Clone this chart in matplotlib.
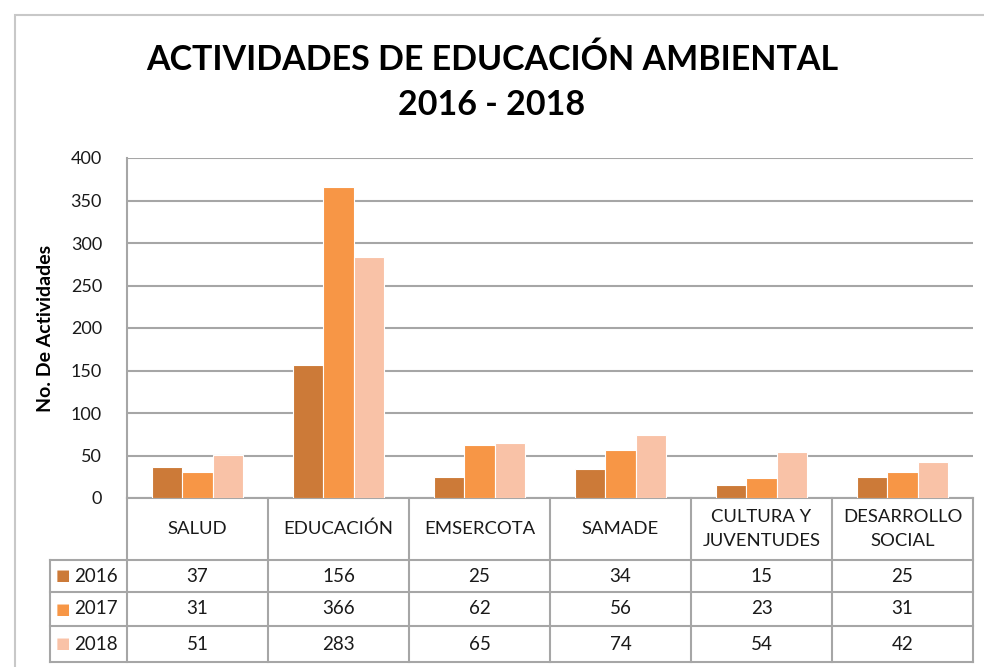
import matplotlib
matplotlib.use("Agg")
import matplotlib.pyplot as plt
import matplotlib.transforms as mtransforms
from matplotlib.patches import Rectangle
import numpy as np

categories = ["SALUD", "EDUCACIÓN", "EMSERCOTA", "SAMADE", "CULTURA Y\nJUVENTUDES", "DESARROLLO\nSOCIAL"]
years = ["2016", "2017", "2018"]
v2016 = [37, 156, 25, 34, 15, 25]
v2017 = [31, 366, 62, 56, 23, 31]
v2018 = [51, 283, 65, 74, 54, 42]
series = [v2016, v2017, v2018]
colors = ["#CC7A38", "#F79646", "#F9C2A7"]
yticks = [0, 50, 100, 150, 200, 250, 300, 350, 400]

plt.rcParams['font.family'] = ["Lato", "DejaVu Sans"]
plt.rcParams['text.color'] = "#1A1A1A"
plt.rcParams['ytick.color'] = "#1A1A1A"

W, H = 984, 667
fig = plt.figure(figsize=(W/100, H/100), dpi=100)
L, R, T, B = 127, 973, 158, 498
ax = fig.add_axes([L/W, 1 - B/H, (R-L)/W, (B-T)/H])

# outer frame
fig.patches.append(Rectangle((15/W, -0.1), 1.2, 1 - 15/H + 0.1, transform=fig.transFigure,
                             fill=False, edgecolor="#C8C8C8", linewidth=1.5))

n = len(categories)
x = np.arange(n)
bw = 0.215
for i, (vals, c) in enumerate(zip(series, colors)):
    ax.bar(x + (i - 1) * bw, vals, width=bw, color=c, edgecolor="white", linewidth=0.8, zorder=3)

ax.set_xlim(-0.5, n - 0.5)
ax.set_ylim(0, 400)
ax.set_yticks(yticks)
ax.set_yticklabels([str(t) for t in yticks], fontsize=13)
ax.set_xticks([])
ax.yaxis.grid(True, color="#A6A6A6", linewidth=1.5, zorder=0)
ax.tick_params(axis="y", length=0, pad=18)
for s in ["top", "right", "bottom"]:
    ax.spines[s].set_visible(False)
ax.spines["left"].set_color("#A6A6A6")
ax.spines["left"].set_linewidth(1.5)
ax.set_ylabel("No. De Actividades", fontsize=14, fontweight="bold", labelpad=12, color="black")

fig.text(0.5, 1 - 60/H, "ACTIVIDADES DE EDUCACIÓN AMBIENTAL", ha="center", va="center",
         fontsize=24.5, fontweight="bold", color="black")
fig.text(0.5, 1 - 105/H, "2016 - 2018", ha="center", va="center",
         fontsize=24.5, fontweight="bold", color="black")

# data table
ph = B - T
rows_px = [498, 560, 592, 626, 662]
rows = [(B - r) / ph for r in rows_px]
trans = mtransforms.blended_transform_factory(ax.transData, ax.transAxes)
lc = "#A6A6A6"
lw = 1.5
leftx = -0.5 - (L - 50) / ((R - L) / n)
for k, ry in enumerate(rows):
    x0 = -0.5 if k == 0 else leftx
    ax.plot([x0, n - 0.5], [ry, ry], transform=trans, color=lc, lw=lw, clip_on=False)
for cx in np.arange(-0.5, n, 1.0):
    ax.plot([cx, cx], [rows[0], rows[-1]], transform=trans, color=lc, lw=lw, clip_on=False)
ax.plot([leftx, leftx], [rows[1], rows[-1]], transform=trans, color=lc, lw=lw, clip_on=False)

for j, cat in enumerate(categories):
    ax.text(j, (rows[0] + rows[1]) / 2, cat, transform=trans, ha="center", va="center",
            fontsize=13.3, linespacing=1.55)
for i, (yr, vals, c) in enumerate(zip(years, series, colors)):
    yc = (rows[i + 1] + rows[i + 2]) / 2
    for j, v in enumerate(vals):
        ax.text(j, yc, str(v), transform=trans, ha="center", va="center", fontsize=13.5)
    ax.text(leftx + 0.09, yc, "■", transform=trans, ha="center", va="center", fontsize=11, color=c,
            family="DejaVu Sans")
    ax.text(leftx + 0.17, yc, yr, transform=trans, ha="left", va="center", fontsize=13.5)

fig.savefig("out.png", dpi=100)
